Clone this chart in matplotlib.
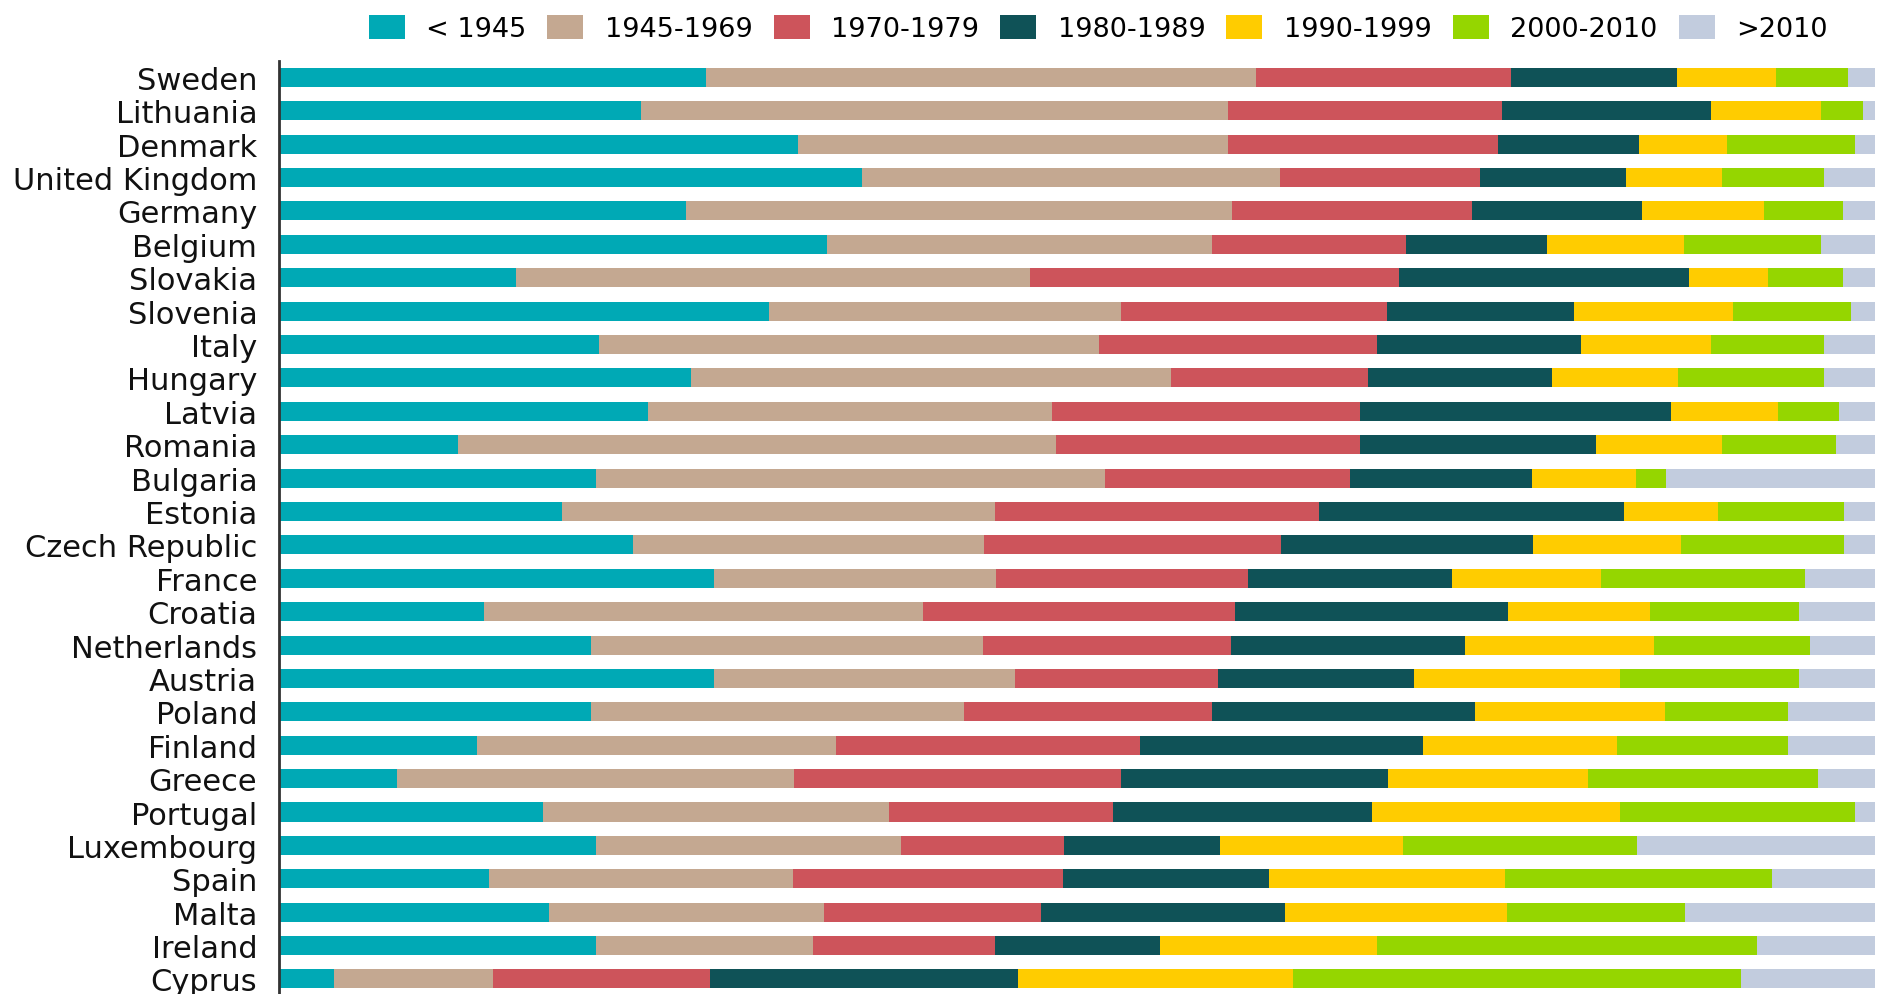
import numpy as np
import matplotlib
matplotlib.use("Agg")
import matplotlib.pyplot as plt

# countries, top to bottom
countries = ["Sweden", "Lithuania", "Denmark", "United Kingdom", "Germany",
             "Belgium", "Slovakia", "Slovenia", "Italy", "Hungary", "Latvia",
             "Romania", "Bulgaria", "Estonia", "Czech Republic", "France",
             "Croatia", "Netherlands", "Austria", "Poland", "Finland",
             "Greece", "Portugal", "Luxembourg", "Spain", "Malta", "Ireland",
             "Cyprus"]

periods = ["< 1945", "1945-1969", "1970-1979", "1980-1989", "1990-1999",
           "2000-2010", ">2010"]

# share of dwellings by construction period (%)
pre1945 = [26.7, 22.6, 32.5, 36.5, 25.5, 34.3, 14.8, 30.7, 20.0, 25.8, 23.1,
           11.2, 19.8, 17.7, 22.2, 27.2, 12.8, 19.5, 27.2, 19.5, 12.4, 7.4,
           16.5, 19.8, 13.1, 16.9, 19.8, 3.4]
p1945_69 = [34.4, 36.8, 27.0, 26.2, 34.2, 24.1, 32.2, 22.0, 31.3, 30.1, 25.3,
            37.5, 31.9, 27.2, 22.0, 17.7, 27.5, 24.6, 18.9, 23.4, 22.5, 24.9,
            21.7, 19.1, 19.1, 17.2, 13.6, 10.0]
p1970_79 = [16.0, 17.1, 16.9, 12.5, 15.0, 12.2, 23.1, 16.7, 17.4, 12.4, 19.3,
            19.1, 15.3, 20.3, 18.6, 15.8, 19.5, 15.5, 12.7, 15.5, 19.1, 20.5,
            14.1, 10.2, 16.9, 13.6, 11.4, 13.6]
p1980_89 = [10.4, 13.1, 8.9, 9.2, 10.7, 8.8, 18.1, 11.7, 12.8, 11.5, 19.5,
            14.8, 11.4, 19.1, 15.8, 12.8, 17.1, 14.7, 12.3, 16.5, 17.7, 16.7,
            16.2, 9.8, 12.9, 15.3, 10.3, 19.3]
p1990_99 = [6.2, 6.9, 5.5, 6.0, 7.6, 8.6, 5.0, 10.0, 8.1, 7.9, 6.7,
            7.9, 6.5, 5.9, 9.3, 9.3, 8.9, 11.8, 12.9, 11.9, 12.2, 12.6,
            15.6, 11.4, 14.8, 13.9, 13.6, 17.2]
p2000_10 = [4.5, 2.6, 8.0, 6.4, 5.0, 8.6, 4.7, 7.4, 7.1, 9.2, 3.8,
            7.1, 1.9, 7.9, 10.2, 12.8, 9.3, 9.8, 11.2, 7.7, 10.7, 14.4,
            14.7, 14.7, 16.7, 11.2, 23.8, 28.1]
post2010 = [1.7, 0.8, 1.3, 3.2, 2.0, 3.4, 2.0, 1.5, 3.2, 3.2, 2.3,
            2.5, 13.1, 2.0, 2.0, 4.4, 4.8, 4.1, 4.8, 5.5, 5.5, 3.6,
            1.3, 14.9, 6.5, 11.9, 7.4, 8.4]

colors = ["#00A9B5", "#C4A891", "#CD545B", "#0F5257", "#FFCC00", "#95D600",
          "#C2CCDE"]

series = [pre1945, p1945_69, p1970_79, p1980_89, p1990_99, p2000_10, post2010]

fig = plt.figure(figsize=(18.82, 9.95), dpi=100)
ax = fig.add_axes([0.1485, 0.0, 0.848, 0.9377])

y = np.arange(len(countries))
data = np.array(series)
data = data / data.sum(axis=0) * 100  # each bar sums to 100%
left = np.zeros(len(countries))
for vals, lab, col in zip(data, periods, colors):
    ax.barh(y, vals, left=left, height=0.57, color=col, label=lab,
            edgecolor="none")
    left += vals

ax.set_xlim(0, 100)
ax.set_ylim(len(countries) - 1 + 0.45, -0.49)
ax.set_yticks(y)
ax.set_yticklabels(countries, fontsize=22, color="#111111")
ax.tick_params(axis="y", length=0, pad=16)
ax.set_xticks([])
for s in ["top", "right", "bottom"]:
    ax.spines[s].set_visible(False)
ax.spines["left"].set_color("#333333")
ax.spines["left"].set_linewidth(2)

fig.legend(loc="center", bbox_to_anchor=(0.5835, 0.9705), ncol=7,
           frameon=False, fontsize=19.5, handlelength=1.33, handleheight=1.0,
           handletextpad=0.8, columnspacing=0.77, borderpad=0)

fig.savefig("out.png", dpi=100)
